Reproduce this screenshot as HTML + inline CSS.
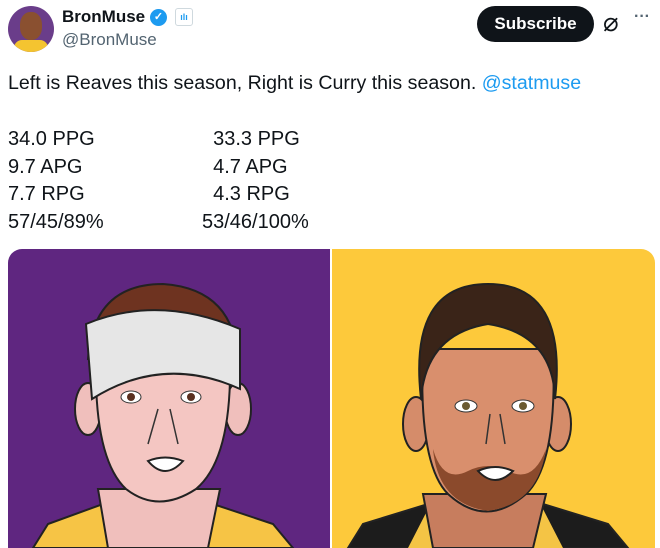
<!DOCTYPE html>
<html><head><style>
body{margin:0;width:660px;height:548px;background:#fff;font-family:"Liberation Sans",sans-serif;color:#0f1419;overflow:hidden;position:relative}
.a{position:absolute;white-space:nowrap}
</style></head><body>
<div class="a" style="left:8px;top:6px;width:46px;height:46px;border-radius:50%;background:#6a3d8a;overflow:hidden">
<div style="position:absolute;left:12px;top:6px;width:22px;height:28px;border-radius:45%;background:#8a5030"></div>
<div style="position:absolute;left:6px;top:34px;width:34px;height:20px;background:#f4c430;border-radius:8px"></div></div>
<div class="a" style="left:62px;top:7px;font-size:17px;font-weight:bold">BronMuse</div>
<div class="a" style="left:150px;top:9px;width:17px;height:17px;border-radius:50%;background:#1d9bf0;color:#fff;font-size:11px;text-align:center;line-height:17px;font-weight:bold">✓</div>
<div class="a" style="left:175px;top:8px;width:16px;height:16px;border:1px solid #cfd9de;border-radius:3px;color:#1d9bf0;font-size:9px;text-align:center;line-height:16px;font-weight:bold">ılı</div>
<div class="a" style="left:62px;top:30px;font-size:17px;color:#536471">@BronMuse</div>
<div class="a" style="left:477px;top:6px;width:117px;height:36px;border-radius:18px;background:#0f1419;color:#fff;font-weight:bold;font-size:17px;text-align:center;line-height:36px">Subscribe</div>
<div class="a" style="left:603px;top:7px;font-size:26px">⌀</div>
<div class="a" style="left:634px;top:8px;font-size:16px;font-weight:bold;color:#536471">···</div>
<div class="a" style="left:8px;top:72px;font-size:19.6px">Left is Reaves this season, Right is Curry this season. <span style="color:#1d9bf0">@statmuse</span></div>
<div class="a" style="left:8px;top:126px;font-size:20px;line-height:27.5px">34.0 PPG<br>9.7 APG<br>7.7 RPG<br>57/45/89%</div>
<div class="a" style="left:202px;top:126px;font-size:20px;line-height:27.5px">&nbsp;&nbsp;33.3 PPG<br>&nbsp;&nbsp;4.7 APG<br>&nbsp;&nbsp;4.3 RPG<br>53/46/100%</div>
<svg class="a" style="left:8px;top:249px" width="648" height="299" viewBox="0 0 648 299">
<defs><clipPath id="c"><rect x="0" y="0" width="647" height="320" rx="14"/></clipPath></defs>
<g clip-path="url(#c)">
<rect x="0" y="0" width="322" height="299" fill="#5f2680"/>
<rect x="324" y="0" width="324" height="299" fill="#fdc93b"/>
<!-- left player -->
<path d="M25 299 L40 275 L95 255 L205 255 L265 275 L285 299Z" fill="#f6c445" stroke="#222" stroke-width="2"/>
<path d="M90 240 L100 299 L200 299 L212 240Z" fill="#f0bfbc" stroke="#222" stroke-width="2"/>
<ellipse cx="80" cy="160" rx="13" ry="26" fill="#f0bfbc" stroke="#222" stroke-width="2"/>
<ellipse cx="230" cy="160" rx="13" ry="26" fill="#f0bfbc" stroke="#222" stroke-width="2"/>
<path d="M88 110 Q86 210 118 240 Q150 265 188 240 Q224 210 222 110 Z" fill="#f4c6c2" stroke="#222" stroke-width="2"/>
<path d="M80 110 Q85 35 155 35 Q228 40 230 115 Z" fill="#6e3320" stroke="#222" stroke-width="2"/>
<path d="M78 75 Q150 45 232 80 L232 140 Q155 105 84 150Z" fill="#e6e6e6" stroke="#222" stroke-width="2"/>
<ellipse cx="123" cy="148" rx="10" ry="6" fill="#fff" stroke="#333"/><circle cx="123" cy="148" r="4" fill="#5a3020"/>
<ellipse cx="183" cy="148" rx="10" ry="6" fill="#fff" stroke="#333"/><circle cx="183" cy="148" r="4" fill="#5a3020"/>
<path d="M140 195 L150 160 M162 160 L170 195" stroke="#333" stroke-width="1.5" fill="none"/>
<path d="M140 212 Q157 205 175 212 Q157 232 140 212Z" fill="#fff" stroke="#222" stroke-width="2"/>
<!-- right player -->
<path d="M340 299 L355 275 L420 255 L535 255 L600 275 L620 299Z" fill="#1c1c1c" stroke="#222" stroke-width="2"/>
<path d="M400 299 L420 260 L535 260 L555 299Z" fill="#f4c445"/>
<path d="M415 245 L425 299 L525 299 L538 245Z" fill="#c77d5e" stroke="#222" stroke-width="2"/>
<ellipse cx="408" cy="175" rx="13" ry="27" fill="#d58c6a" stroke="#222" stroke-width="2"/>
<ellipse cx="550" cy="175" rx="13" ry="27" fill="#d58c6a" stroke="#222" stroke-width="2"/>
<path d="M415 100 Q410 215 440 245 Q478 280 518 245 Q550 215 545 100 Z" fill="#d98f6d" stroke="#222" stroke-width="2"/>
<path d="M425 200 Q430 255 480 262 Q530 255 538 200 Q525 235 500 222 Q480 212 460 222 Q435 235 425 200Z" fill="#8b4a2c"/>
<path d="M413 150 Q400 35 480 35 Q560 35 547 150 Q545 85 480 75 Q418 85 413 150Z" fill="#3a2418" stroke="#222" stroke-width="2"/>
<ellipse cx="458" cy="157" rx="11" ry="6" fill="#fff" stroke="#333"/><circle cx="458" cy="157" r="4" fill="#6a5a30"/>
<ellipse cx="515" cy="157" rx="11" ry="6" fill="#fff" stroke="#333"/><circle cx="515" cy="157" r="4" fill="#6a5a30"/>
<path d="M478 195 L482 165 M492 165 L497 195" stroke="#333" stroke-width="1.5" fill="none"/>
<path d="M470 222 Q487 214 505 222 Q487 240 470 222Z" fill="#fff" stroke="#222" stroke-width="2"/>
</g></svg>
</body></html>
